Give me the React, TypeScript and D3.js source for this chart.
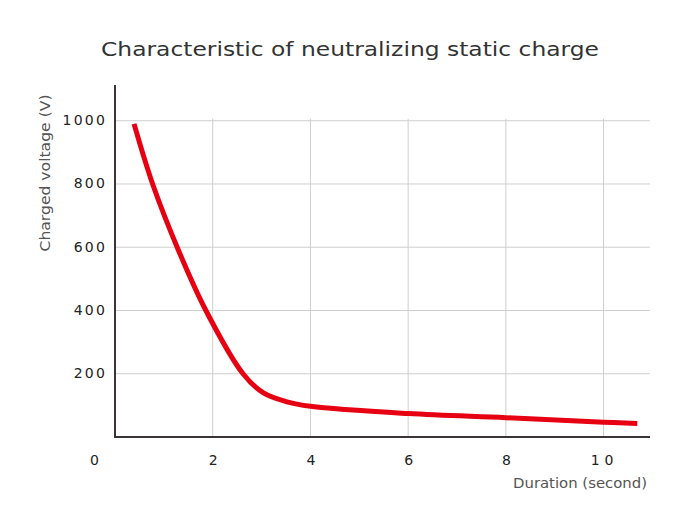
import React from "react";
import * as d3 from "d3";

const durationX = [0.39, 0.77, 1.3, 1.86, 2.62, 3.03, 3.5, 4.0, 6.0, 8.0, 10.0, 10.69];
const voltageY = [990, 800, 590, 400, 200, 140, 112, 97, 74, 61, 47, 43];
const xTicks = [0, 2, 4, 6, 8, 10];
const xTickLabels = ["0", "2", "4", "6", "8", "10"];
const yTicks = [200, 400, 600, 800, 1000];
const title = "Characteristic of neutralizing static charge";
const yTitle = "Charged voltage  (V)";
const xTitle = "Duration (second)";

export default function App() {
  const W = 700, H = 520;
  const left = 115, right = 650, top = 85, bottom = 437;
  const x = d3.scaleLinear().domain([0, 10.95]).range([left, right]);
  const y = d3.scaleLinear().domain([0, 1113]).range([bottom, top]);
  const pts: [number, number][] = durationX.map((d, i) => [d, voltageY[i]]);
  const line = d3
    .line<[number, number]>()
    .x((d) => x(d[0]))
    .y((d) => y(d[1]))
    .curve(d3.curveCatmullRom.alpha(0.5));
  const font = "'DejaVu Sans', sans-serif";
  return (
    <svg width={W} height={H} style={{ position: "absolute", left: 0, top: 0, background: "#fff" }} fontFamily={font}>
      <text x={350} y={56} textAnchor="middle" fontSize={20} fill="#333" textLength={498} lengthAdjust="spacingAndGlyphs">
        {title}
      </text>
      {xTicks.filter((t) => t > 0).map((t) => (
        <line key={"gx" + t} x1={x(t)} x2={x(t)} y1={y(1000) - 2} y2={bottom} stroke="#cfcfcf" strokeWidth={1} />
      ))}
      {yTicks.map((t) => (
        <line key={"gy" + t} x1={left} x2={right} y1={y(t)} y2={y(t)} stroke="#cfcfcf" strokeWidth={1} />
      ))}
      <path d={line(pts) || ""} fill="none" stroke="#e60012" strokeWidth={5} strokeLinecap="butt" />
      <line x1={left} x2={left} y1={top} y2={bottom + 1} stroke="#3b3434" strokeWidth={2} />
      <line x1={left - 1} x2={right} y1={bottom} y2={bottom} stroke="#3b3434" strokeWidth={2} />
      {yTicks.map((t) => (
        <text key={"ty" + t} x={107} y={y(t) + 4.5} textAnchor="end" fontSize={14} fill="#222" letterSpacing={2.2}>
          {t}
        </text>
      ))}
      {xTicks.map((t, i) => (
        <text
          key={"tx" + t}
          x={t === 0 ? x(t) - 20 : x(t) + 1}
          y={465}
          textAnchor="middle"
          fontSize={14}
          fill="#222"
          letterSpacing={t === 10 ? 5 : 1}
        >
          {xTickLabels[i]}
        </text>
      ))}
      <text
        transform={`translate(50, ${173}) rotate(-90)`}
        textAnchor="middle"
        fontSize={14}
        fill="#555"
        textLength={157}
        lengthAdjust="spacingAndGlyphs"
      >
        {yTitle}
      </text>
      <text x={647} y={488} textAnchor="end" fontSize={14} fill="#555" textLength={134} lengthAdjust="spacingAndGlyphs">
        {xTitle}
      </text>
    </svg>
  );
}
